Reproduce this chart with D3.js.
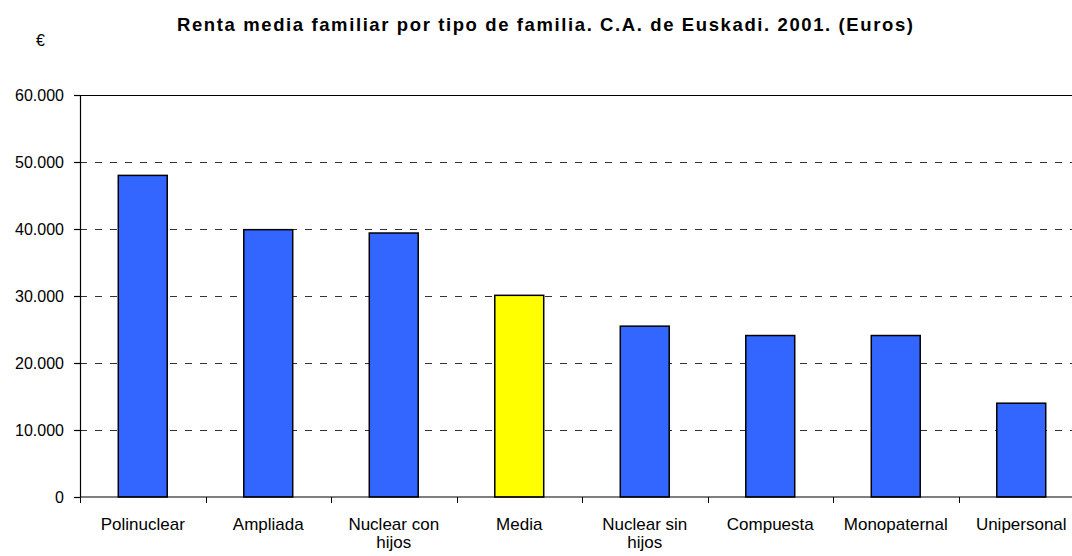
<!DOCTYPE html>
<html>
<head>
<meta charset="utf-8">
<script src="https://cdn.jsdelivr.net/npm/d3@7"></script>
<style>
  body { margin: 0; background: #fff; }
  svg { display: block; font-family: Arial, "Liberation Sans", sans-serif; }
</style>
</head>
<body>
<div id="chart"></div>
<script>
var categories = ["Polinuclear", "Ampliada", "Nuclear con|hijos", "Media", "Nuclear sin|hijos", "Compuesta", "Monopaternal", "Unipersonal"];
var values = [48000, 39900, 39400, 30100, 25500, 24100, 24100, 14000];
var yTicks = [0, 10000, 20000, 30000, 40000, 50000, 60000];
var highlight = "Media";

var width = 1072, height = 556;
var plotLeft = 80, plotRight = 1084, plotTop = 95, plotBottom = 497;

var svg = d3.select("#chart")
  .append("svg")
  .attr("width", width)
  .attr("height", height)

var x = d3.scaleBand()
  .domain(categories)
  .range([plotLeft, plotRight])
  .paddingInner(0.61)
  .paddingOuter(0.305)

var y = d3.scaleLinear()
  .domain([0, 60000])
  .range([plotBottom, plotTop])

var es = d3.formatLocale({decimal: ",", thousands: ".", grouping: [3], currency: ["", " €"]});
var fmt = es.format(",d");

// title + unit
svg.append("text")
  .attr("x", 545)
  .attr("y", 31)
  .attr("text-anchor", "middle")
  .attr("font-size", "18.5px")
  .attr("font-weight", "bold")
  .attr("textLength", 736)
  .attr("lengthAdjust", "spacing")
  .text("Renta media familiar por tipo de familia. C.A. de Euskadi. 2001. (Euros)")

svg.append("text")
  .attr("x", 36)
  .attr("y", 46)
  .attr("font-size", "16px")
  .text("€")

// gridlines
svg.append("g")
  .selectAll("line")
  .data(yTicks.filter(function(d){ return d > 0 && d < 60000; }))
  .enter().append("line")
  .attr("x1", plotLeft)
  .attr("x2", width)
  .attr("y1", function(d){ return Math.round(y(d)) + 0.5; })
  .attr("y2", function(d){ return Math.round(y(d)) + 0.5; })
  .attr("stroke", "#333")
  .attr("stroke-width", 1)
  .attr("stroke-dasharray", "7,8")

// top border
svg.append("line")
  .attr("x1", plotLeft).attr("x2", width)
  .attr("y1", Math.round(y(60000)) + 0.5).attr("y2", Math.round(y(60000)) + 0.5)
  .attr("stroke", "#000")

// bars
svg.append("g")
  .selectAll("rect")
  .data(values)
  .enter().append("rect")
  .attr("x", function(d, i){ return x(categories[i]); })
  .attr("y", function(d){ return y(d); })
  .attr("width", x.bandwidth())
  .attr("height", function(d){ return y(0) - y(d); })
  .attr("fill", function(d, i){ return categories[i] === highlight ? "#FFFF00" : "#3366FF"; })
  .attr("stroke", "#000")
  .attr("stroke-width", 1.5)

// y axis
var yAxis = svg.append("g")
  .attr("transform", "translate(" + plotLeft + ",0)")
  .call(d3.axisLeft(y).tickValues(yTicks).tickFormat(fmt).tickSize(6).tickPadding(10))
yAxis.selectAll("text").attr("font-size", "16px").attr("fill", "#000").attr("font-family", "Arial, 'Liberation Sans', sans-serif")
yAxis.selectAll("line, path").attr("stroke", "#000").attr("stroke-width", 1.2)

// x axis: ticks at band boundaries
var step = x.step();
var boundaries = d3.range(categories.length + 1).map(function(i){ return plotLeft + i * step; });

svg.append("line")
  .attr("x1", plotLeft).attr("x2", width)
  .attr("y1", y(0)).attr("y2", y(0))
  .attr("stroke", "#000").attr("stroke-width", 1.2)

svg.append("g")
  .selectAll("line")
  .data(boundaries)
  .enter().append("line")
  .attr("x1", function(d){ return Math.round(d) + 0.5; })
  .attr("x2", function(d){ return Math.round(d) + 0.5; })
  .attr("y1", y(0))
  .attr("y2", y(0) + 6)
  .attr("stroke", "#000")

var labels = svg.append("g")
  .selectAll("text")
  .data(categories)
  .enter().append("text")
  .attr("text-anchor", "middle")
  .attr("font-size", "17px")
  .attr("x", function(d){ return x(d) + x.bandwidth() / 2; })
  .attr("y", 530)

labels.selectAll("tspan")
  .data(function(d){ return d.split("|"); })
  .enter().append("tspan")
  .attr("x", function(){ var p = this.parentNode; return p.getAttribute("x"); })
  .attr("dy", function(d, i){ return i === 0 ? 0 : 18; })
  .text(function(d){ return d; })
</script>
</body>
</html>
